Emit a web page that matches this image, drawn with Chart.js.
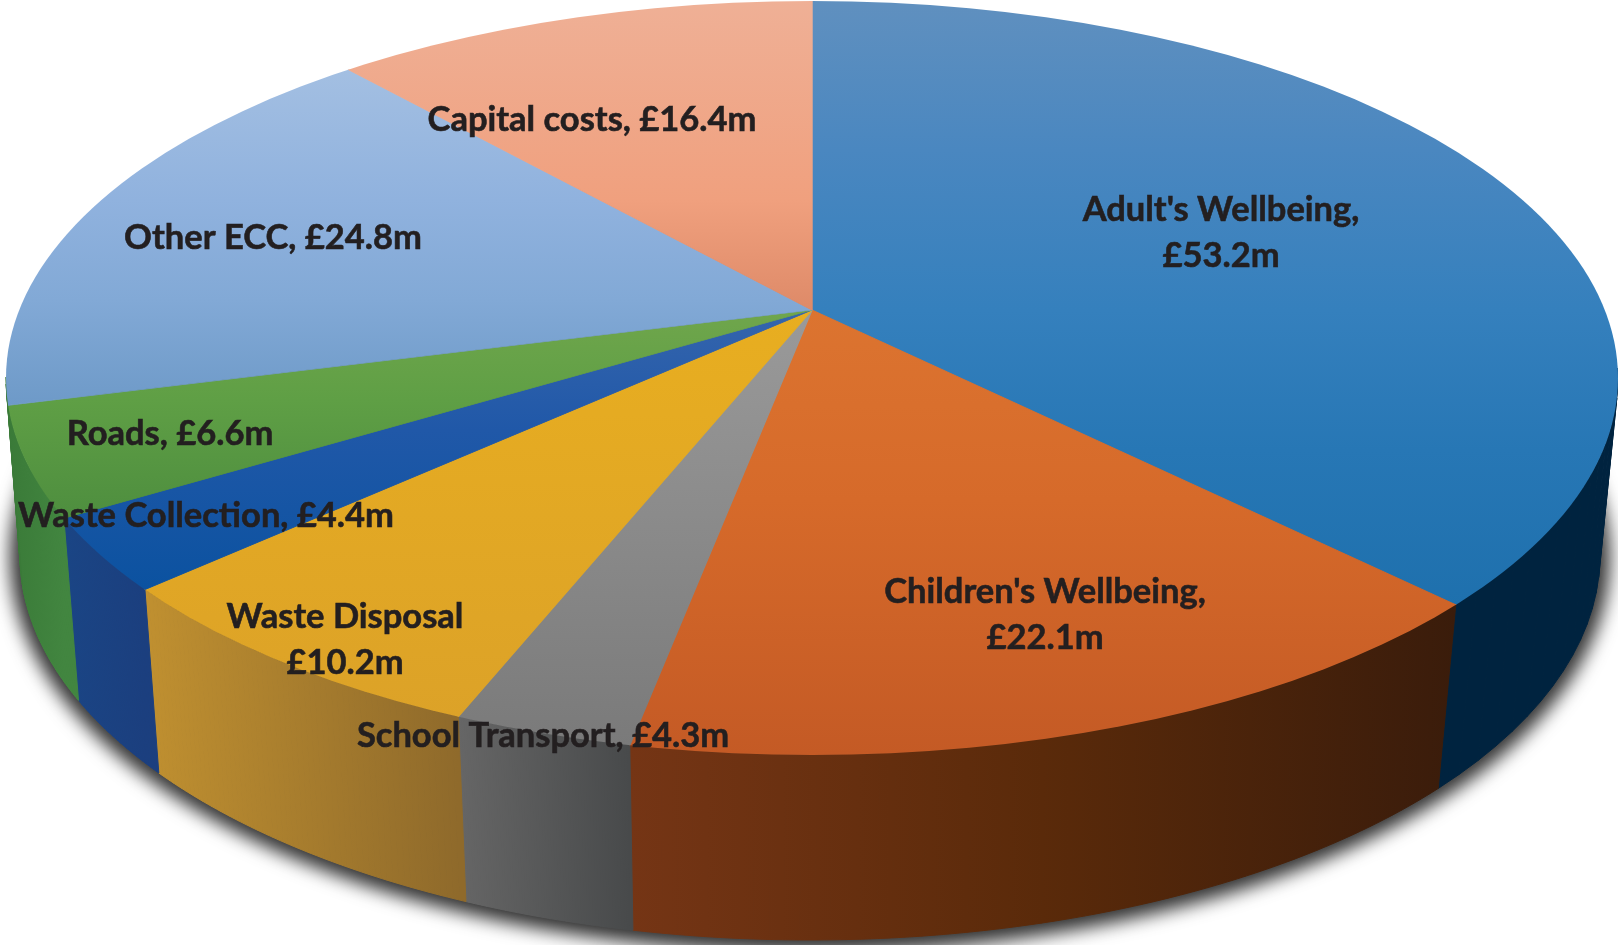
<!DOCTYPE html>
<html>
<head>
<meta charset="utf-8">
<title>Budget pie</title>
<script src="https://cdn.jsdelivr.net/npm/chart.js@4"></script>
<style>
  html, body { margin: 0; padding: 0; background: #fff; overflow: hidden; }
  canvas { display: block; }
</style>
</head>
<body>
<canvas id="budgetPie" width="1618" height="945"></canvas>
<script>
// ── Data ─────────────────────────────────────────────────────
const categories = ["Adult's Wellbeing", "Children's Wellbeing", "School Transport", "Waste Disposal",
                    "Waste Collection", "Roads", "Other ECC", "Capital costs"];
const amounts = [53.2, 22.1, 4.3, 10.2, 4.4, 6.6, 24.8, 16.4];

// Label text as printed on the slices (one entry per line)
const labelLines = [
    ["Adult's Wellbeing,", "£53.2m"],
    ["Children's Wellbeing,", "£22.1m"],
    ["School Transport, £4.3m"],
    ["Waste Disposal", "£10.2m"],
    ["Waste Collection, £4.4m"],
    ["Roads, £6.6m"],
    ["Other ECC, £24.8m"],
    ["Capital costs, £16.4m"]
];

// ── Styles ───────────────────────────────────────────────────
// Vertical gradient of the top face: [screen y, colour]
const topColors = [
    [[0, '#6090bf'], [150, '#4a87c0'], [310, '#3580bd'], [450, '#2777b5'], [610, '#1e70ad']],
    [[310, '#dc7430'], [500, '#d66a2a'], [755, '#c45a25']],
    [[310, '#9a9a9a'], [745, '#7a7a7a']],
    [[310, '#e8ae20'], [720, '#dca228']],
    [[310, '#3565ad'], [430, '#2058a8'], [590, '#0b52a0']],
    [[310, '#70a64c'], [400, '#5f9f45'], [530, '#4c8c3e']],
    [[70, '#a3bfe2'], [200, '#90b2de'], [300, '#82a9d6'], [404, '#6e9ac8']],
    [[0, '#efb096'], [200, '#f0a07e'], [310, '#de8a68']]
];
// Horizontal gradient of the side wall, left to right
const wallColors = [
    ['#04203a', '#00233f'],
    ['#753515', '#5a2a0a', '#3a1c0b'],
    ['#666666', '#484a4b'],
    ['#c09030', '#8f6a2b'],
    ['#1a4585', '#1b3f7f'],
    ['#3a7a38', '#428640'],
    ['#3a7a38', '#3a7a38'],
    ['#efb096', '#efb096']
];

// Projection of the pie: rim ellipses and where the apex lands
const topRim    = { x: 812, y: 378, rx: 806, ry: 377, apexX: 812, apexY: 310, squash: 0.46 };
const bottomRim = { x: 810, y: 555, rx: 790, ry: 385, apexX: 810, apexY: 487, squash: 0.482 };
const scaleX = 2.4;    // the arcs overshoot the rim and get clipped to it

// Centre of each label block [x, y of first line]
const labelAnchors = [[1221, 210], [1045, 592], [543, 736], [345, 617], [206, 516], [170, 434], [273, 238], [592, 120]];
const labelLineGap = 46;


// ── Helper: point on a rim ellipse along a slice edge ────────
function rimPoint(rim, angle) {
    const dx = Math.cos(angle), dy = rim.squash * Math.sin(angle);
    const ox = rim.apexX - rim.x, oy = rim.apexY - rim.y;
    const a = dx * dx / (rim.rx * rim.rx) + dy * dy / (rim.ry * rim.ry);
    const b = 2 * (ox * dx / (rim.rx * rim.rx) + oy * dy / (rim.ry * rim.ry));
    const c = ox * ox / (rim.rx * rim.rx) + oy * oy / (rim.ry * rim.ry) - 1;
    const t = (-b + Math.sqrt(b * b - 4 * a * c)) / (2 * a);
    return [rim.apexX + t * dx, rim.apexY + t * dy];
}

function addStops(gradient, colors) {
    colors.forEach((c, i) => gradient.addColorStop(i / (colors.length - 1), c));
    return gradient;
}


// ── Plugin: side walls and shadow below, projection for arcs ─
const pie3d = {
    id: 'pie3d',
    beforeDatasetsDraw(chart) {
        const ctx = chart.ctx;
        const arcs = chart.getDatasetMeta(0).data;

        // Soft shadow under the drum: a blurred, slightly larger bottom rim
        ctx.save();
        ctx.filter = 'blur(9px)';
        ctx.fillStyle = '#333';
        ctx.beginPath();
        ctx.ellipse(bottomRim.x, bottomRim.y + 2, bottomRim.rx + 10, bottomRim.ry + 10, 0, 0, Math.PI * 2);
        ctx.fill();
        ctx.restore();

        // One wall band per slice, from the angles the library computed
        arcs.forEach((arc, i) => {
            const steps = 60, top = [], bottom = [];
            for (let s = 0; s <= steps; s++) {
                const ang = arc.startAngle + (arc.endAngle - arc.startAngle) * s / steps;
                top.push(rimPoint(topRim, ang));
                bottom.push(rimPoint(bottomRim, ang));
            }
            const x0 = Math.min(top[0][0], top[steps][0]);
            const x1 = Math.max(top[0][0], top[steps][0]);
            const fill = addStops(ctx.createLinearGradient(x0, 0, x1, 0), wallColors[i]);
            ctx.fillStyle = fill;
            ctx.strokeStyle = fill;
            ctx.lineWidth = 1;
            for (let s = 0; s < steps; s++) {
                // The back half of the wall is hidden behind the top face
                if (top[s][1] < topRim.y && top[s + 1][1] < topRim.y) continue;
                ctx.beginPath();
                ctx.moveTo(top[s][0], top[s][1]);
                ctx.lineTo(top[s + 1][0], top[s + 1][1]);
                ctx.lineTo(bottom[s + 1][0], bottom[s + 1][1]);
                ctx.lineTo(bottom[s][0], bottom[s][1]);
                ctx.closePath();
                ctx.fill();
                ctx.stroke();
            }
        });

        // Arcs get squashed about the apex and clipped to the top rim
        const cx = (chart.chartArea.left + chart.chartArea.right) / 2;
        const cy = (chart.chartArea.top + chart.chartArea.bottom) / 2;
        ctx.save();
        ctx.beginPath();
        ctx.ellipse(topRim.x, topRim.y, topRim.rx, topRim.ry, 0, 0, Math.PI * 2);
        ctx.clip();
        ctx.translate(topRim.apexX, topRim.apexY);
        ctx.scale(scaleX, scaleX * topRim.squash);
        ctx.translate(-cx, -cy);
    },
    afterDatasetsDraw(chart) {
        chart.ctx.restore();

        // Text on top of everything
        const ctx = chart.ctx;
        ctx.save();
        ctx.font = 'bold 34.5px Lato';
        ctx.fillStyle = '#231f20';
        ctx.strokeStyle = '#231f20';
        ctx.lineWidth = 0.6;
        ctx.textAlign = 'center';
        ctx.textBaseline = 'middle';
        labelLines.forEach((lines, i) => {
            lines.forEach((line, k) => {
                const y = labelAnchors[i][1] + k * labelLineGap;
                ctx.fillText(line, labelAnchors[i][0], y);
                ctx.strokeText(line, labelAnchors[i][0], y);
            });
        });
        ctx.restore();
    }
};


// ── Slice fill: gradient stops are given in screen y ─────────
function sliceFill(context) {
    const chart = context.chart;
    const stops = topColors[context.dataIndex];
    if (!chart.chartArea) return stops[0][1];
    const cy = (chart.chartArea.top + chart.chartArea.bottom) / 2;
    const toChartY = y => cy + (y - topRim.apexY) / (scaleX * topRim.squash);
    const y0 = stops[0][0], y1 = stops[stops.length - 1][0];
    const gradient = chart.ctx.createLinearGradient(0, toChartY(y0), 0, toChartY(y1));
    stops.forEach(s => gradient.addColorStop((s[0] - y0) / (y1 - y0), s[1]));
    return gradient;
}


// ── Chart ────────────────────────────────────────────────────
new Chart(document.getElementById('budgetPie'), {
    type: 'pie',
    data: {
        labels: categories,
        datasets: [{
            data: amounts,
            backgroundColor: sliceFill,
            borderColor: sliceFill,
            borderWidth: 0.6,
            clip: false
        }]
    },
    options: {
        responsive: false,
        animation: false,
        events: [],
        plugins: { legend: { display: false }, tooltip: { enabled: false } }
    },
    plugins: [pie3d]
});
</script>
</body>
</html>
